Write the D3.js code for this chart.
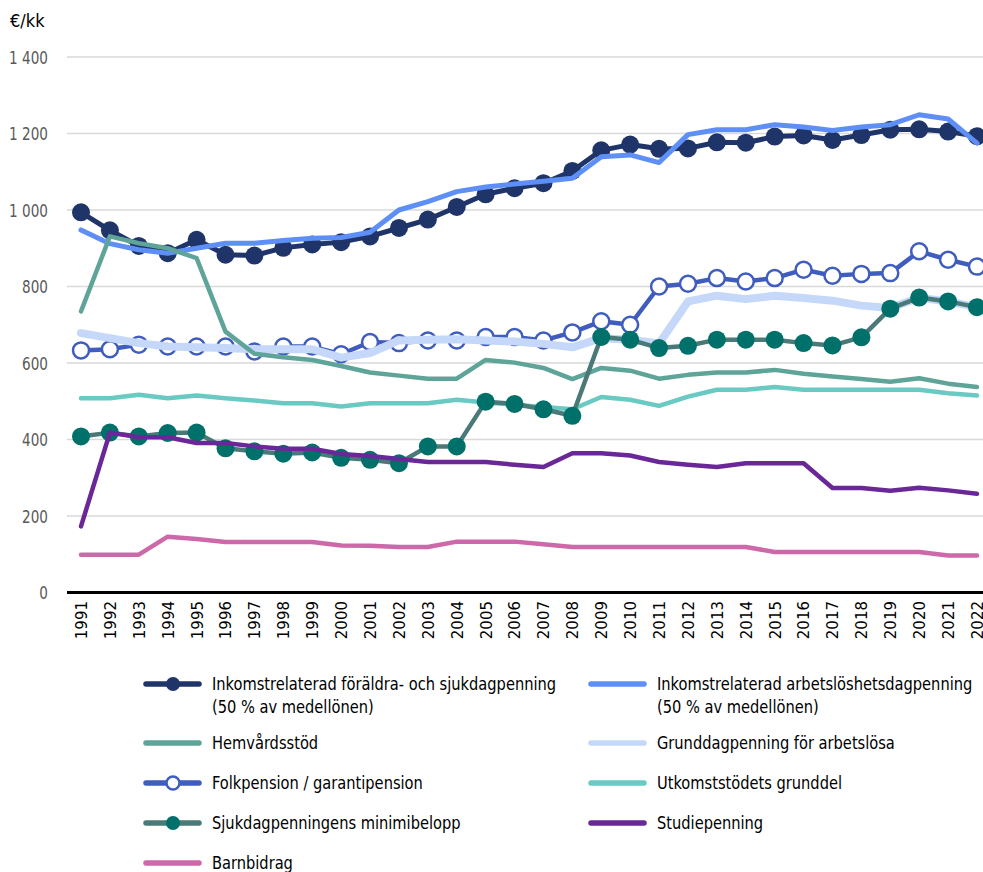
<!DOCTYPE html>
<html lang="sv">
<head>
<meta charset="utf-8">
<script src="https://cdn.jsdelivr.net/npm/d3@7"></script>
<style>
  html, body { margin: 0; padding: 0; background: #fff; }
  svg { display: block; }
</style>
</head>
<body>
<svg id="chart" width="983" height="872"></svg>
<script>
// Years on the category axis
const years = [1991,1992,1993,1994,1995,1996,1997,1998,1999,2000,2001,2002,2003,2004,2005,2006,2007,2008,2009,2010,2011,2012,2013,2014,2015,2016,2017,2018,2019,2020,2021,2022];

// Y axis ticks and their labels (€/kk)
const yTicks = [0, 200, 400, 600, 800, 1000, 1200, 1400];
const yTickLabels = ["0", "200", "400", "600", "800", "1 000", "1 200", "1 400"];

// Series values, €/month
const foraldraSjuk = [994,947,906,887,922,883,881,901,910,916,931,953,975,1008,1041,1057,1070,1102,1156,1171,1160,1161,1177,1176,1192,1195,1183,1196,1210,1211,1205,1193];
const arbetsloshet = [948,912,896,887,900,913,913,920,926,928,942,1000,1022,1048,1060,1068,1075,1083,1139,1144,1124,1197,1210,1210,1223,1217,1208,1217,1223,1249,1238,1175];
const hemvard = [735,931,913,900,874,682,624,615,608,592,575,567,559,559,608,601,587,558,587,580,559,569,575,575,582,572,565,558,551,560,546,537];
const grunddag = [678,665,652,643,641,639,636,636,636,614,626,659,661,662,659,656,650,641,665,661,651,761,776,767,776,770,763,750,744,771,761,746];
const folkpension = [633,636,648,643,643,643,630,643,643,623,655,652,659,659,668,668,659,680,709,700,800,807,822,813,822,844,828,833,835,892,870,852];
const utkomst = [508,508,517,508,515,508,502,495,495,486,495,495,495,504,497,491,485,479,511,504,488,512,530,530,537,530,530,530,530,530,521,515];
const sjukMinimi = [408,418,408,417,418,377,369,363,366,352,347,338,382,382,499,493,479,462,668,661,639,645,661,661,661,652,646,667,742,771,761,746];
const studiepenning = [173,418,406,406,391,391,382,376,376,362,357,349,341,341,341,334,328,364,364,358,341,334,328,338,338,338,273,273,266,274,267,258];
const barnbidrag = [99,99,99,146,140,132,132,132,132,123,122,119,119,133,133,133,126,119,119,119,119,119,119,119,106,106,106,106,106,106,97,97];

// Legend names
const names = [
  ["Inkomstrelaterad föräldra- och sjukdagpenning", "(50 % av medellönen)"],
  ["Inkomstrelaterad arbetslöshetsdagpenning", "(50 % av medellönen)"],
  ["Hemvårdsstöd"],
  ["Grunddagpenning för arbetslösa"],
  ["Folkpension / garantipension"],
  ["Utkomststödets grunddel"],
  ["Sjukdagpenningens minimibelopp"],
  ["Studiepenning"],
  ["Barnbidrag"]
];

const series = [
  { name: names[0], values: foraldraSjuk,  color: "#1f3468", width: 5,   marker: "filled", markerColor: "#1f3468", r: 9 },
  { name: names[1], values: arbetsloshet,  color: "#5d8ff7", width: 5,   marker: null },
  { name: names[2], values: hemvard,       color: "#5ea498", width: 4.5, marker: null },
  { name: names[3], values: grunddag,      color: "#c5d8fa", width: 8,   marker: null },
  { name: names[4], values: folkpension,   color: "#3f5dbf", width: 4.5, marker: "open",   markerColor: "#3f5dbf", r: 8 },
  { name: names[5], values: utkomst,       color: "#68cac2", width: 4.5, marker: null },
  { name: names[6], values: sjukMinimi,    color: "#4a7a77", width: 4.5, marker: "filled", markerColor: "#00716a", r: 9 },
  { name: names[7], values: studiepenning, color: "#6a2797", width: 4.5, marker: null },
  { name: names[8], values: barnbidrag,    color: "#cd68a9", width: 4.5, marker: null }
];

// Painting order, bottom to top
const drawOrder = [0, 1, 4, 3, 2, 5, 6, 7, 8];

const svg = d3.select("#chart");
const plotLeft = 67, plotRight = 983;

const x = d3.scalePoint().domain(years).range([81, 977]);
const y = d3.scaleLinear().domain([0, 1400]).range([592.5, 57]);

const condensed = "'Liberation Sans Narrow', 'DejaVu Sans Condensed', 'Arial Narrow', sans-serif";

// Gridlines
svg.append("g")
  .selectAll("line")
  .data(yTicks.filter(d => d > 0))
  .join("line")
  .attr("x1", plotLeft).attr("x2", plotRight)
  .attr("y1", d => y(d)).attr("y2", d => y(d))
  .attr("stroke", "#d9d9d9").attr("stroke-width", 1.5);

// Y axis labels
const yAxis = d3.axisLeft(y)
  .tickValues(yTicks)
  .tickFormat((d, i) => yTickLabels[i])
  .tickSize(0)
  .tickPadding(0);
const gy = svg.append("g").attr("transform", "translate(48,0)").call(yAxis);
gy.select(".domain").remove();
gy.selectAll("text")
  .attr("font-family", condensed)
  .attr("font-size", 18)
  .attr("fill", "#595959")
  .attr("x", 0)
  .attr("dy", "0.34em")
  .attr("transform", "scale(0.84,1)");

// Unit label
svg.append("text")
  .attr("x", 10).attr("y", 27)
  .attr("font-family", condensed)
  .attr("font-size", 18)
  .attr("fill", "#000")
  .text("€/kk");

// X axis
const xAxis = d3.axisBottom(x).tickSize(0).tickPadding(0);
const gx = svg.append("g").attr("transform", "translate(0,593)").call(xAxis);
gx.select(".domain").remove();
gx.selectAll("text")
  .attr("font-family", "'DejaVu Sans', sans-serif")
  .attr("font-size", 15)
  .attr("fill", "#000")
  .attr("text-anchor", "end")
  .attr("transform", "rotate(-90)")
  .attr("x", -8)
  .attr("y", 0)
  .attr("dy", "0.36em");

svg.append("line")
  .attr("x1", plotLeft).attr("x2", plotRight)
  .attr("y1", y(0)).attr("y2", y(0))
  .attr("stroke", "#000").attr("stroke-width", 3);

// Lines and markers
const line = d3.line()
  .x((d, i) => x(years[i]))
  .y(d => y(d));

const plot = svg.append("g");
drawOrder.forEach(k => {
  const s = series[k];
  const g = plot.append("g");
  g.append("path")
    .datum(s.values)
    .attr("d", line)
    .attr("fill", "none")
    .attr("stroke", s.color)
    .attr("stroke-width", s.width)
    .attr("stroke-linejoin", "round")
    .attr("stroke-linecap", "round");
  if (s.marker) {
    g.selectAll("circle")
      .data(s.values)
      .join("circle")
      .attr("cx", (d, i) => x(years[i]))
      .attr("cy", d => y(d))
      .attr("r", s.r)
      .attr("fill", s.marker === "open" ? "#fff" : s.markerColor)
      .attr("stroke", s.marker === "open" ? s.markerColor : "none")
      .attr("stroke-width", 2.5);
  }
});

// Legend
const legendCols = [146, 591];
const legendRows = [684, 743, 783, 823, 863];
const legend = svg.append("g");
series.forEach((s, i) => {
  const col = i % 2, row = Math.floor(i / 2);
  const lx = legendCols[col], ly = legendRows[row];
  const g = legend.append("g").attr("transform", `translate(${lx},${ly})`);
  g.append("line")
    .attr("x1", 0).attr("x2", 53)
    .attr("y1", 0).attr("y2", 0)
    .attr("stroke", s.color)
    .attr("stroke-width", 5.5)
    .attr("stroke-linecap", "round");
  if (s.marker) {
    g.append("circle")
      .attr("cx", 27).attr("cy", 0)
      .attr("r", s.marker === "open" ? 6.5 : 7)
      .attr("fill", s.marker === "open" ? "#fff" : s.markerColor)
      .attr("stroke", s.marker === "open" ? s.markerColor : "none")
      .attr("stroke-width", 2.5);
  }
  s.name.forEach((t, j) => {
    g.append("text")
      .attr("transform", `translate(66,${j * 23}) scale(0.88,1)`)
      .attr("dy", "0.35em")
      .attr("font-family", condensed)
      .attr("font-size", 18.5)
      .attr("fill", "#000")
      .text(t);
  });
});
</script>
</body>
</html>
